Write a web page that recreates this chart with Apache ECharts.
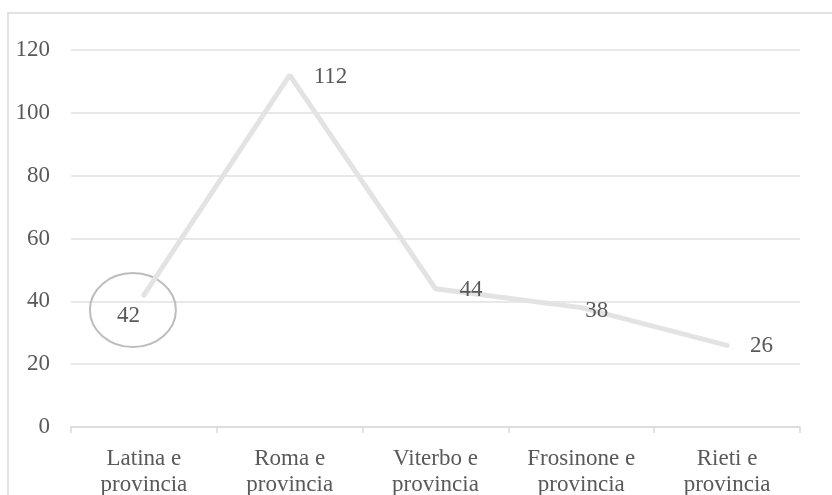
<!DOCTYPE html>
<html>
<head>
<meta charset="utf-8">
<script src="https://cdn.jsdelivr.net/npm/echarts@6/dist/echarts.min.js"></script>
<style>
  html, body { margin: 0; padding: 0; background: #fff; }
  #chart { width: 832px; height: 495px; }
</style>
</head>
<body>
<div id="chart"></div>
<script>
// Provinces of Lazio and their counts
const categories = [
  'Latina e\nprovincia',
  'Roma e\nprovincia',
  'Viterbo e\nprovincia',
  'Frosinone e\nprovincia',
  'Rieti e\nprovincia'
];
const values = [42, 112, 44, 38, 26];
const yTicks = { min: 0, max: 120, step: 20 };

const textColor = '#595959';
const fontFamily = '"Liberation Serif", "Times New Roman", serif';

// label offsets per point (the first one sits inside the highlight ring)
const labelOffsets = [[-33, 21], [18, 2], [18, 1], [-2, 3], [17, 1]];

const chart = echarts.init(document.getElementById('chart'));

const option = {
  animation: false,
  backgroundColor: '#fff',
  grid: { left: 71, right: 32, top: 50, bottom: 68, outerBoundsMode: 'none', containLabel: false },
  xAxis: {
    type: 'category',
    data: categories,
    boundaryGap: true,
    axisLine: { lineStyle: { color: '#d9d9d9', width: 1.5 } },
    axisTick: { show: true, length: 6, lineStyle: { color: '#d9d9d9', width: 1.5 } },
    axisLabel: {
      color: textColor, fontFamily: fontFamily, fontSize: 23,
      lineHeight: 26, margin: 19, interval: 0
    }
  },
  yAxis: {
    type: 'value',
    min: yTicks.min, max: yTicks.max, interval: yTicks.step,
    axisLine: { show: false },
    axisTick: { show: false },
    splitLine: { lineStyle: { color: '#e0e0e0', width: 1.5 } },
    axisLabel: { color: textColor, fontFamily: fontFamily, fontSize: 23, margin: 21 }
  },
  series: [{
    type: 'line',
    data: values.map((v, i) => ({
      value: v,
      label: { offset: labelOffsets[i] }
    })),
    symbol: 'circle',
    symbolSize: 2,
    showSymbol: true,
    itemStyle: { color: 'rgba(0,0,0,0)', borderWidth: 0 },
    lineStyle: { color: '#e3e3e3', width: 5, cap: 'round' },
    label: {
      show: true,
      position: 'right',
      color: textColor,
      fontFamily: fontFamily,
      fontSize: 23
    }
  }]
};
chart.setOption(option);

// outer frame and highlight ring around the first label
const p0 = chart.convertToPixel({ gridIndex: 0 }, [0, values[0]]);
chart.setOption({
  graphic: [
    {
      type: 'rect',
      shape: { x: 8, y: 13, width: 900, height: 600 },
      style: { fill: 'none', stroke: '#d9d9d9', lineWidth: 1.5 },
      silent: true
    },
    {
      type: 'ellipse',
      shape: { cx: p0[0] - 11, cy: p0[1] + 15, rx: 43, ry: 37 },
      style: { fill: 'none', stroke: '#bdbdbd', lineWidth: 2 },
      silent: true
    }
  ]
});
</script>
</body>
</html>
